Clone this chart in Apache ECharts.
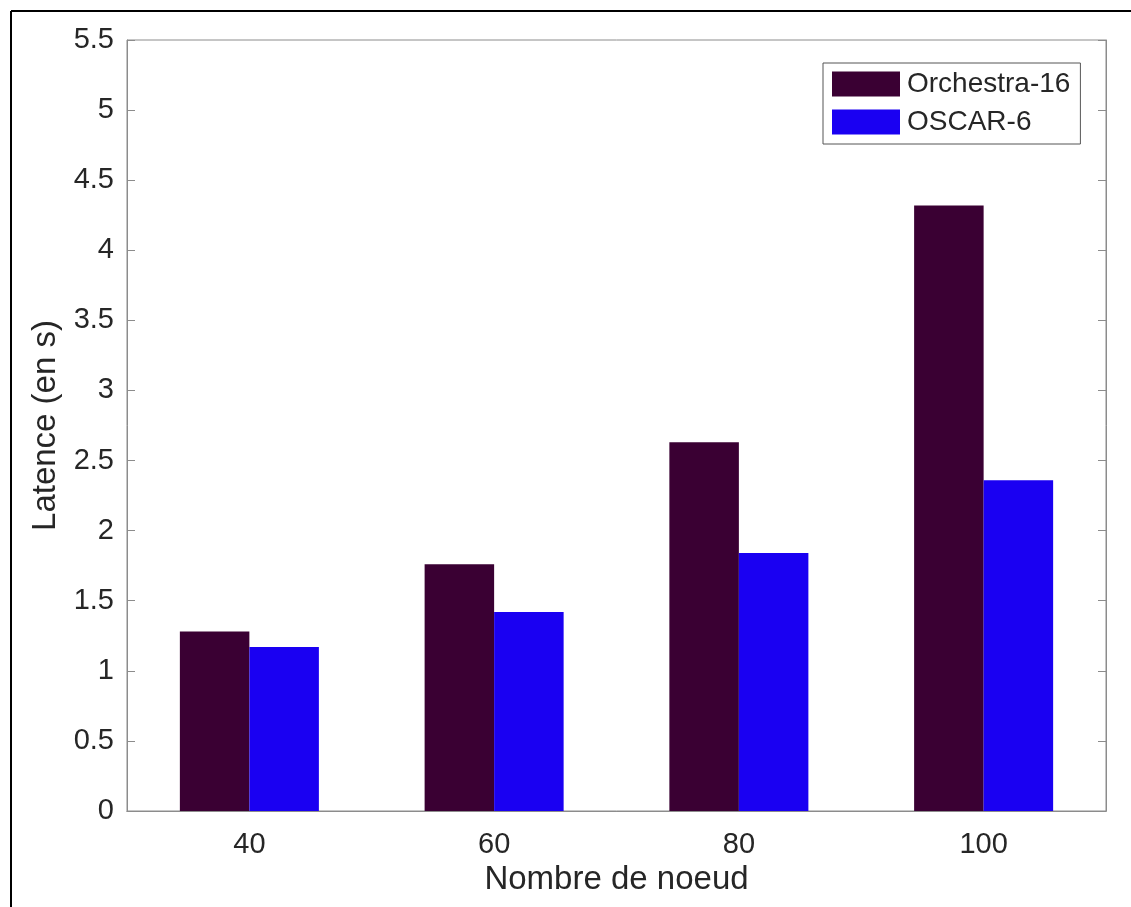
<!DOCTYPE html>
<html>
<head>
<meta charset="utf-8">
<script src="https://cdn.jsdelivr.net/npm/echarts@6/dist/echarts.min.js"></script>
<style>html,body{margin:0;padding:0;background:#fff;}#c{width:1131px;height:907px;}</style>
</head>
<body>
<div id="c"></div>
<script>
const categories = ['40', '60', '80', '100'];
const orchestra16 = [1.28, 1.76, 2.63, 4.32];
const oscar6 = [1.17, 1.42, 1.84, 2.36];
const seriesNames = ['Orchestra-16', 'OSCAR-6'];
const yMin = 0, yMax = 5.5, yStep = 0.5;

const FONT = 'Liberation Sans';
const TXT = '#262626';
const AX = '#8c8c8c';
const chart = echarts.init(document.getElementById('c'));
chart.setOption({
  animation: false,
  backgroundColor: '#fff',
  textStyle: { fontFamily: FONT },
  grid: { left: 127, top: 40, right: 25, bottom: 96, show: true, borderColor: AX, borderWidth: 1 },
  legend: {
    orient: 'vertical', left: 823, top: 63,
    padding: [7, 10, 8, 9],
    itemWidth: 68, itemHeight: 25, itemGap: 10,
    borderColor: '#555', borderWidth: 1, backgroundColor: '#fff',
    textStyle: { fontFamily: FONT, fontSize: 28, color: TXT, padding: [0, 0, 0, 2] },
    icon: 'rect',
    data: seriesNames
  },
  xAxis: [{
    type: 'category', data: categories, position: 'bottom',
    axisLine: { lineStyle: { color: AX } },
    axisTick: { inside: true, alignWithLabel: true, length: 8, lineStyle: { color: AX } },
    axisLabel: { fontFamily: FONT, fontSize: 29, color: TXT, margin: 19 },
    name: 'Nombre de noeud', nameLocation: 'middle', nameGap: 47,
    nameTextStyle: { fontFamily: FONT, fontSize: 33, color: TXT }
  }, {
    type: 'category', data: categories, position: 'top',
    axisLine: { lineStyle: { color: AX } },
    axisTick: { inside: true, alignWithLabel: true, length: 8, lineStyle: { color: AX } },
    axisLabel: { show: false }
  }],
  yAxis: [{
    type: 'value', min: yMin, max: yMax, interval: yStep, position: 'left',
    axisLine: { show: true, lineStyle: { color: AX } },
    axisTick: { show: true, inside: true, length: 8, lineStyle: { color: AX } },
    splitLine: { show: false },
    axisLabel: { fontFamily: FONT, fontSize: 29, color: TXT, margin: 13 },
    name: 'Latence (en s)', nameLocation: 'middle', nameGap: 63, nameRotate: 90,
    nameTextStyle: { fontFamily: FONT, fontSize: 33, color: TXT }
  }, {
    type: 'value', min: yMin, max: yMax, interval: yStep, position: 'right',
    axisLine: { show: true, lineStyle: { color: AX } },
    axisTick: { show: true, inside: true, length: 8, lineStyle: { color: AX } },
    splitLine: { show: false },
    axisLabel: { show: false }
  }],
  series: [{
    name: seriesNames[0], type: 'bar', data: orchestra16,
    barWidth: '28.4%', barGap: '0%',
    itemStyle: { color: '#3a0033' }
  }, {
    name: seriesNames[1], type: 'bar', data: oscar6,
    barWidth: '28.4%', barGap: '0%',
    itemStyle: { color: '#1a00f2' }
  }],
  graphic: [
    { type: 'line', shape: { x1: 11, y1: 11, x2: 1131, y2: 11 }, style: { stroke: '#000', lineWidth: 2 } },
    { type: 'line', shape: { x1: 11, y1: 11, x2: 11, y2: 907 }, style: { stroke: '#000', lineWidth: 2 } }
  ]
});
</script>
</body>
</html>
